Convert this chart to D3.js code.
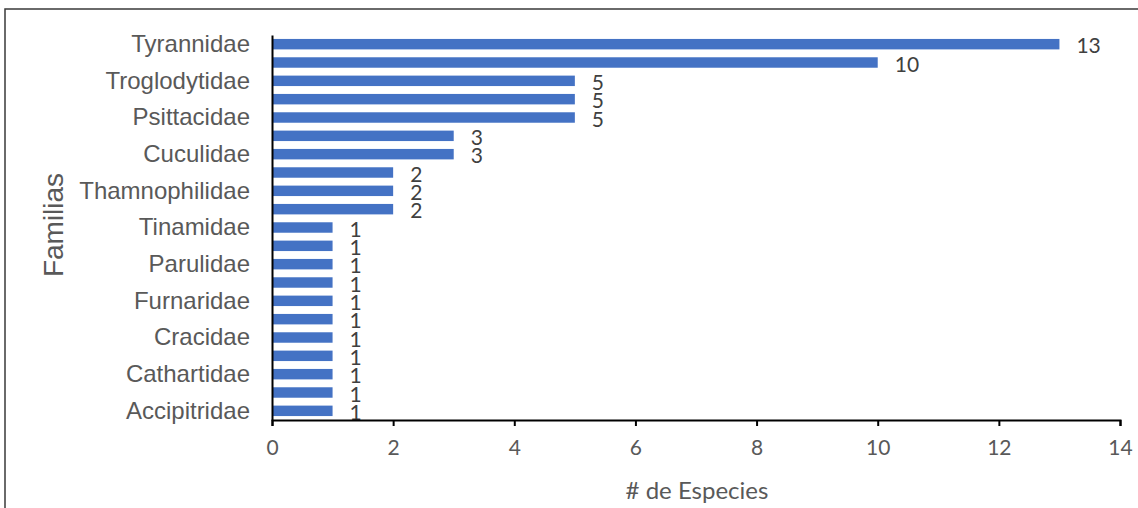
<!DOCTYPE html>
<html>
<head>
<meta charset="utf-8">
<script src="https://cdn.jsdelivr.net/npm/d3@7"></script>
<style>
  html, body { margin: 0; padding: 0; background: #fff; }
  svg { display: block; }
</style>
</head>
<body>
<svg id="chart" width="1138" height="508"></svg>
<script>
// Bird families, top to bottom; rows without a printed name are left blank on the axis
const families = [
  "Tyrannidae", "", "Troglodytidae", "", "Psittacidae", "", "Cuculidae", "",
  "Thamnophilidae", "", "Tinamidae", "", "Parulidae", "", "Furnaridae", "",
  "Cracidae", "", "Cathartidae", "", "Accipitridae"
];
// Number of species in each family
const species = [13, 10, 5, 5, 5, 3, 3, 2, 2, 2, 1, 1, 1, 1, 1, 1, 1, 1, 1, 1, 1];
const xTicks = [0, 2, 4, 6, 8, 10, 12, 14];

const svg = d3.select("#chart");
const W = 1138, H = 508;
const plot = { left: 272, right: 1120, top: 35, bottom: 420 };

// Outer frame of the chart area
svg.append("rect")
  .attr("x", 5).attr("y", 9)
  .attr("width", W + 20).attr("height", H + 20)
  .attr("fill", "#fff")
  .attr("stroke", "#3a3a3a")
  .attr("stroke-width", 1.5);

const rows = d3.range(families.length);

const x = d3.scaleLinear().domain([0, 14]).range([plot.left, plot.right]);
const y = d3.scaleBand()
  .domain(rows)
  .range([plot.top, plot.bottom])
  .paddingInner(0.43)
  .paddingOuter(0.215);

// Bars
svg.append("g").selectAll("rect")
  .data(rows)
  .join("rect")
  .attr("x", x(0))
  .attr("y", i => y(i))
  .attr("width", i => x(species[i]) - x(0))
  .attr("height", y.bandwidth())
  .attr("fill", "#4472C4");

// Value labels
svg.append("g").selectAll("text")
  .data(rows)
  .join("text")
  .attr("x", i => x(species[i]) + 17)
  .attr("y", i => y(i) + y.bandwidth() / 2 + 1.5)
  .attr("dy", "0.36em")
  .attr("font-family", "Lato, 'Open Sans', sans-serif")
  .attr("font-size", 21)
  .attr("fill", "#404040")
  .text(i => species[i]);

// Category axis
const yAxis = svg.append("g")
  .attr("transform", `translate(${plot.left},0)`)
  .call(d3.axisLeft(y).tickSize(0).tickPadding(22).tickFormat(i => families[i]));
yAxis.select(".domain").attr("stroke", "#000").attr("stroke-width", 2);
yAxis.selectAll("text")
  .attr("font-family", "'Liberation Sans', Arial, sans-serif")
  .attr("font-size", 24)
  .attr("fill", "#595959");

// Value axis
const xAxis = svg.append("g")
  .attr("transform", `translate(0,${plot.bottom})`)
  .call(d3.axisBottom(x).tickValues(xTicks).tickSize(6).tickSizeOuter(6).tickPadding(14));
xAxis.select(".domain").attr("stroke", "#000").attr("stroke-width", 2);
xAxis.selectAll(".tick line").attr("stroke", "#000").attr("stroke-width", 2);
xAxis.selectAll("text")
  .attr("font-family", "Lato, 'Open Sans', sans-serif")
  .attr("font-size", 21)
  .attr("fill", "#595959");

// Axis titles
svg.append("text")
  .attr("x", (plot.left + plot.right) / 2 + 1)
  .attr("y", 499)
  .attr("text-anchor", "middle")
  .attr("font-family", "Lato, 'Open Sans', sans-serif")
  .attr("font-size", 24)
  .attr("fill", "#595959")
  .text("# de Especies");

svg.append("text")
  .attr("transform", "translate(63,225) rotate(-90)")
  .attr("text-anchor", "middle")
  .attr("font-family", "'Liberation Sans', Arial, sans-serif")
  .attr("font-size", 28)
  .attr("fill", "#595959")
  .text("Familias");
</script>
</body>
</html>
